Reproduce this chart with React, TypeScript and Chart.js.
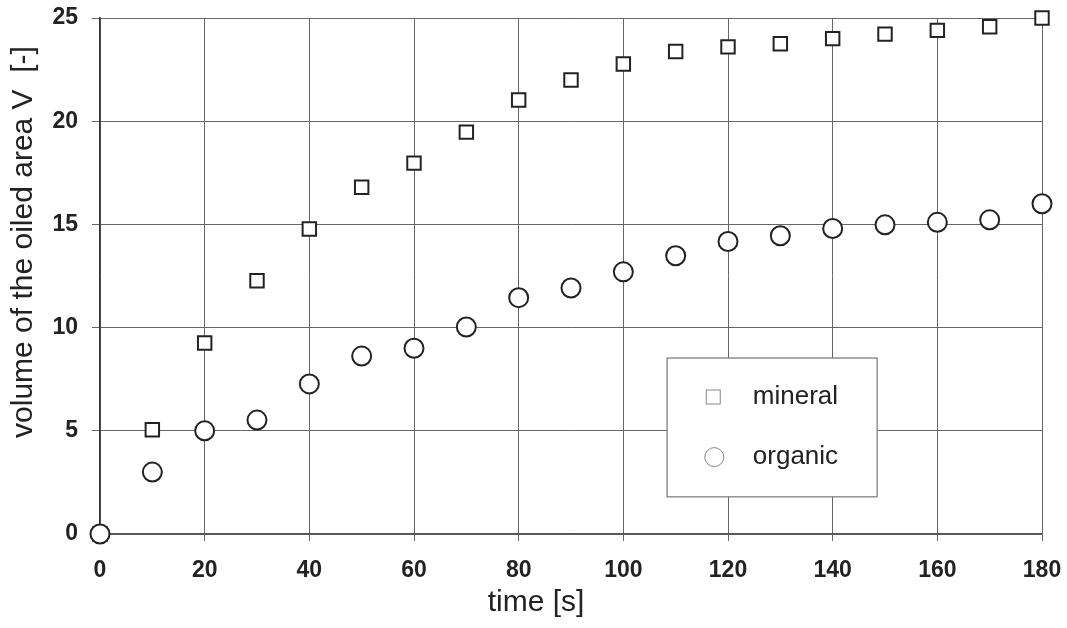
import React, { useEffect, useRef } from "react";
import { Chart, registerables } from "chart.js";

Chart.register(...registerables);

const timeValues = [0, 10, 20, 30, 40, 50, 60, 70, 80, 90, 100, 110, 120, 130, 140, 150, 160, 170, 180];
const mineralValues = [0, 5.05, 9.25, 12.27, 14.78, 16.8, 17.97, 19.47, 21.03, 22.0, 22.77, 23.38, 23.6, 23.75, 24.0, 24.22, 24.4, 24.58, 25.0];
const organicValues = [0, 3.0, 5.0, 5.52, 7.27, 8.62, 9.0, 10.03, 11.45, 11.92, 12.7, 13.48, 14.17, 14.45, 14.8, 14.98, 15.1, 15.22, 16.0];
const seriesNames = ["mineral", "organic"];
const xTitle = "time [s]";
const yTitle = "volume of the oiled area V  [-]";

const FONT = "'Liberation Sans', Arial, sans-serif";

export default function App() {
  const ref = useRef<HTMLCanvasElement | null>(null);

  useEffect(() => {
    document.body.style.margin = "0";
    const canvas = ref.current!;
    const overlay = {
      id: "overlay",
      afterDatasetsDraw(chart: any) {
        const ctx = chart.ctx;
        const a = chart.chartArea;
        const w = a.right - a.left;
        const h = a.bottom - a.top;
        const fx = (f: number) => a.left + f * w;
        const fy = (f: number) => a.top + f * h;
        ctx.save();
        const lx = fx(0.602), rx = fx(0.825), ty = fy(0.659), by = fy(0.928);
        ctx.fillStyle = "#ffffff";
        ctx.fillRect(lx, ty, rx - lx, by - ty);
        ctx.strokeStyle = "#777";
        ctx.lineWidth = 1.2;
        ctx.strokeRect(lx, ty, rx - lx, by - ty);
        const mx = fx(0.651);
        const r1 = fy(0.7345), r2 = fy(0.851);
        ctx.strokeStyle = "#888";
        ctx.lineWidth = 1;
        ctx.strokeRect(mx - 7, r1 - 7, 14, 14);
        ctx.beginPath();
        ctx.arc(mx + 1, r2, 9.5, 0, Math.PI * 2);
        ctx.stroke();
        ctx.fillStyle = "#222";
        ctx.font = `26px ${FONT}`;
        ctx.textBaseline = "middle";
        ctx.textAlign = "left";
        ctx.fillText(seriesNames[0], fx(0.693), r1);
        ctx.fillText(seriesNames[1], fx(0.693), r2);
        ctx.restore();
      },
      afterDraw(chart: any) {
        const ctx = chart.ctx;
        ctx.save();
        ctx.fillStyle = "#222";
        ctx.font = `30px ${FONT}`;
        ctx.textAlign = "center";
        ctx.textBaseline = "middle";
        ctx.fillText(xTitle, 536, 603);
        ctx.translate(24, 242);
        ctx.rotate(-Math.PI / 2);
        ctx.fillText(yTitle, 0, 0);
        ctx.restore();
      },
    };

    const pointCommon = {
      pointRadius: 9.5,
      pointBorderWidth: 2,
      pointBorderColor: "#222",
      pointBackgroundColor: "#fff",
      showLine: false,
      clip: false as any,
    };

    const zeroPad = (s: any) => {
      s.paddingTop = 0;
      s.paddingBottom = 0;
      s.paddingLeft = 0;
      s.paddingRight = 0;
    };

    const chart = new Chart(canvas, {
      type: "scatter",
      data: {
        datasets: [
          {
            label: seriesNames[1],
            data: timeValues.map((t, i) => ({ x: t, y: organicValues[i] })),
            pointStyle: "circle",
            ...pointCommon,
          },
          {
            label: seriesNames[0],
            data: timeValues.map((t, i) => ({ x: t, y: mineralValues[i] })),
            pointStyle: "rect",
            ...pointCommon,
          },
        ],
      },
      options: {
        animation: false,
        responsive: false,
        devicePixelRatio: 1,
        layout: { autoPadding: false, padding: { top: 18, right: 25, left: 0, bottom: 0 } },
        plugins: { legend: { display: false }, tooltip: { enabled: false } },
        scales: {
          x: {
            type: "linear",
            min: 0,
            max: 180,
            afterFit: (s: any) => { s.height = 94; zeroPad(s); },
            ticks: { stepSize: 20, color: "#222", font: { family: FONT, size: 23, weight: "bold" }, padding: 16, maxRotation: 0 },
            grid: { color: "#666", lineWidth: 1, tickLength: 7 },
            border: { color: "#555", width: 1.5 },
          },
          y: {
            min: 0,
            max: 25,
            afterFit: (s: any) => { s.width = 100; zeroPad(s); },
            ticks: { stepSize: 5, color: "#222", font: { family: FONT, size: 23, weight: "bold" }, padding: 14 },
            grid: { color: "#666", lineWidth: 1, tickLength: 8 },
            border: { color: "#333", width: 1.5 },
          },
        },
      },
      plugins: [overlay],
    } as any);
    return () => chart.destroy();
  }, []);

  return <canvas ref={ref} width={1067} height={628} style={{ display: "block" }} />;
}
